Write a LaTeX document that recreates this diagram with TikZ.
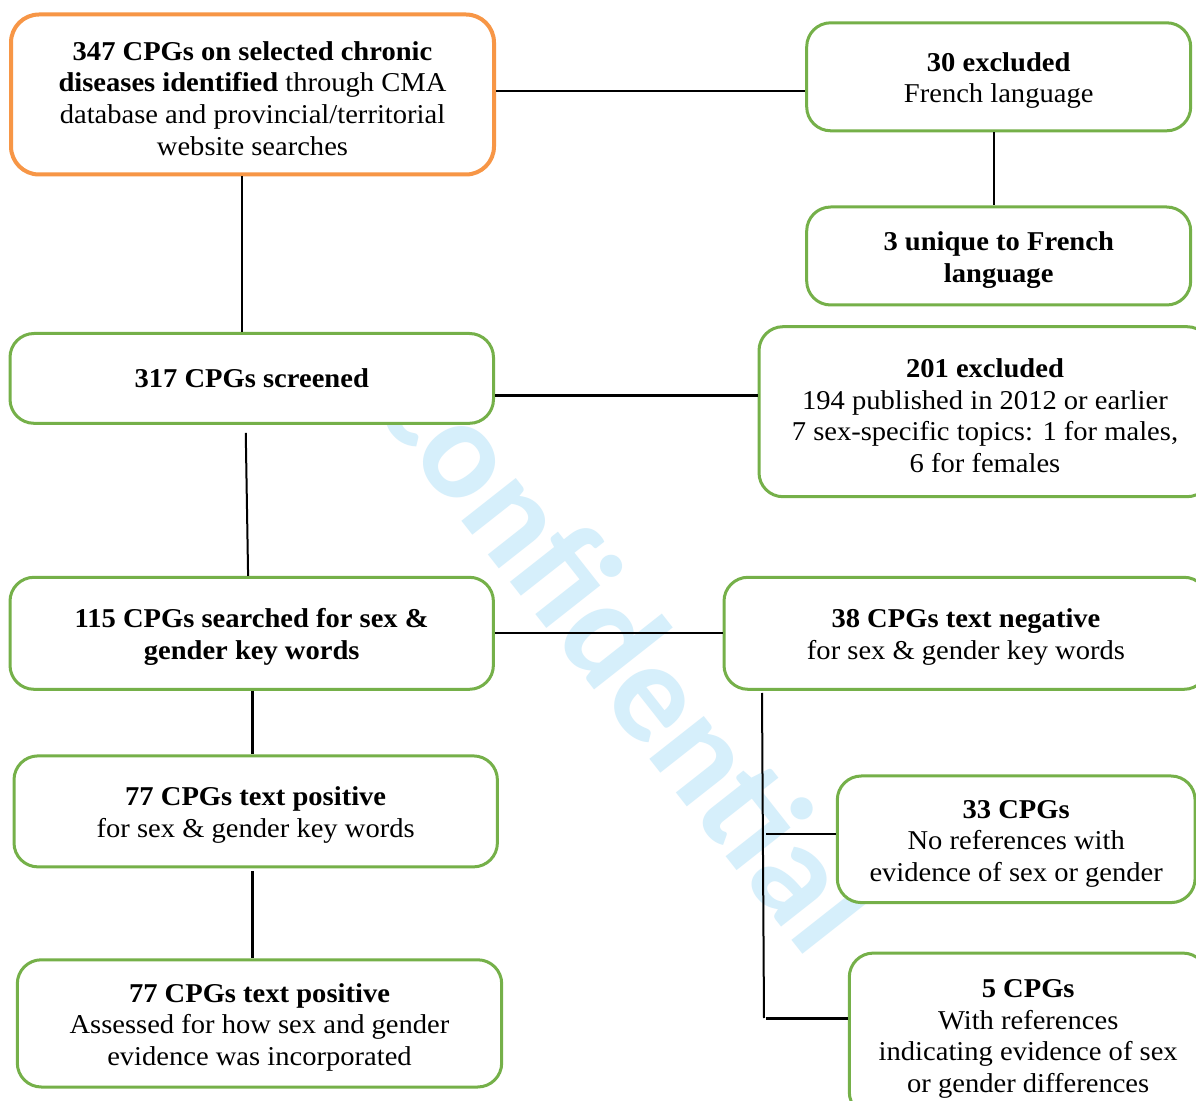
\documentclass[tikz,border=0pt]{standalone}
\usepackage{fontspec}
\setmainfont{Liberation Serif}[FakeStretch=1.05]
\newfontfamily\wmfont{Carlito}
\usepackage{tikz}
\usetikzlibrary{positioning}
\definecolor{orng}{RGB}{247,150,70}
\definecolor{grn}{RGB}{117,176,73}
\definecolor{wmblue}{RGB}{214,239,251}
\newcommand{\tstrut}{\rule{0pt}{13.3pt}}

\begin{document}
\begin{tikzpicture}[x=0.5pt,y=-0.5pt,every node/.style={font=\fontsize{13.6}{15.8}\selectfont}]
\tikzset{O/.style={draw=orng,line width=2pt,rounded corners=14pt,fill=white,align=center,inner sep=0pt}}
\tikzset{G/.style={draw=grn,line width=1.5pt,rounded corners=12pt,fill=white,align=center,inner sep=0pt}}
\tikzset{L/.style={line width=1pt}}

  \fill[white] (0,0) rectangle (1196,1101);
  \useasboundingbox (0,0) rectangle (1196,1101);
  \node[text=wmblue,font=\wmfont\bfseries\fontsize{71.4}{80}\selectfont,rotate=-51.8,anchor=base] (wm) at (590,684) {confidential};

  \node[O,minimum width=241.5pt,minimum height=80pt] (l1) at (252.5,94.5)
    {\tstrut\textbf{347 CPGs on selected chronic}\\\textbf{diseases identified} through CMA\\database and provincial/territorial\\website searches};
  \node[G,minimum width=241.75pt,minimum height=44.9pt] (l2) at (251.75,378.4) {\textbf{317 CPGs screened}};
  \node[G,minimum width=241.7pt,minimum height=56pt] (l3) at (251.7,633.3) {\tstrut\textbf{115 CPGs searched for sex \&}\\\textbf{gender key words}};
  \node[G,minimum width=241.7pt,minimum height=55.5pt] (l4) at (255.7,811.4) {\tstrut\textbf{77 CPGs text positive}\\for sex \& gender key words};
  \node[G,minimum width=242.2pt,minimum height=63.6pt] (l5) at (259.5,1023.4) {\tstrut\textbf{77 CPGs text positive}\\Assessed for how sex and gender\\evidence was incorporated};

  \node[G,minimum width=192pt,minimum height=54pt] (r1) at (998.7,76.8) {\tstrut\textbf{30 excluded}\\French language};
  \node[G,minimum width=192pt,minimum height=49pt] (r2) at (998.7,256) {\tstrut\textbf{3 unique to French}\\\textbf{language}};
  \node[G,minimum width=226pt,minimum height=85pt] (r3) at (985,411.7) {\tstrut\textbf{201 excluded}\\194 published in 2012 or earlier\\7 sex-specific topics: 1 for males,\\6 for females};
  \node[G,minimum width=242pt,minimum height=56pt] (r4) at (966,633.3) {\tstrut\textbf{38 CPGs text negative}\\for sex \& gender key words};
  \node[G,minimum width=178.9pt,minimum height=63.3pt] (r5) at (1016.2,839.3) {\tstrut\textbf{33 CPGs}\\No references with\\evidence of sex or gender};
  \node[G,minimum width=178.9pt,minimum height=81.5pt] (r6) at (1028.2,1034.6) {\tstrut\textbf{5 CPGs}\\With references\\indicating evidence of sex\\or gender differences};

  \draw[L] ([yshift=1.75pt]l1.east) -- ([yshift=1.75pt]l1.east -| r1.west);
  \draw[L] ([xshift=-2.5pt]r1.south) -- ([xshift=-2.5pt]r2.north);
  \draw[L] ([xshift=-5.4pt]l1.south) -- ([xshift=-5.4pt]l1.south |- l2.north);
  \draw[line width=1.5pt] ([yshift=-8.8pt]l2.east) -- ([yshift=-8.8pt]l2.east -| r3.west);
  \draw[L] ([xshift=-3pt,yshift=-4pt]l2.south) -- ([xshift=-1.8pt]l3.north);
  \draw[L] (l3.east) -- (l3.east -| r4.west);
  \draw[line width=1.5pt] ([xshift=0.3pt]l3.south) -- ([xshift=0.3pt]l3.south |- l4.north);
  \draw[line width=1.5pt] ([xshift=-1.7pt,yshift=-1.5pt]l4.south) -- ([xshift=-3.6pt]l5.north);

  \coordinate (g1) at (762,693);
  \coordinate (g2) at (764,1018);
  \coordinate (g3) at (766,834);
  \coordinate (g4) at (766,1018);
  \draw[L] (g1) -- (g2);
  \draw[L] (g3) -- (g3 -| r5.west);
  \draw[line width=1.5pt] (g4) -- (g4 -| r6.west);
\end{tikzpicture}
\end{document}
